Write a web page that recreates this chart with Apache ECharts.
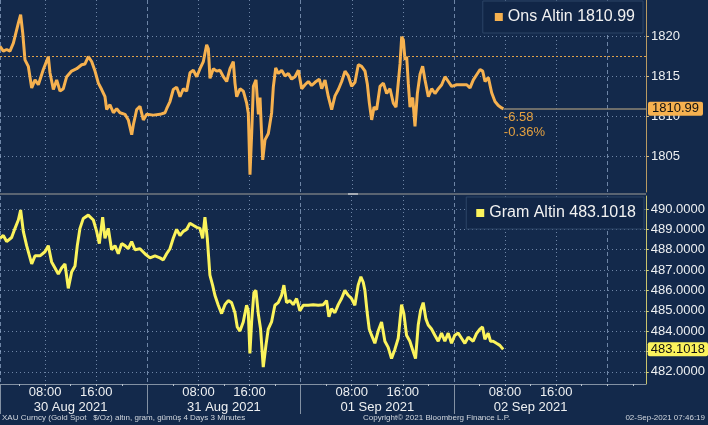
<!DOCTYPE html>
<html><head><meta charset="utf-8">
<script src="https://cdn.jsdelivr.net/npm/echarts@6/dist/echarts.min.js"></script>
<style>html,body{margin:0;padding:0;background:#13294b;}#c{width:708px;height:425px;}</style>
</head><body><div id="c"></div><script>
// hours since 30 Aug 2021 00:00
const onsHours = [0.94,1.46,1.98,2.5,3.03,3.81,4.17,4.49,4.85,5.37,5.90,6.42,6.94,7.72,8.50,8.76,9.29,9.81,10.33,10.85,
11.37,12.15,12.94,13.72,14.24,14.76,15.28,15.81,16.33,16.85,17.37,17.63,18.15,18.68,19.20,19.72,20.50,21.02,21.55,21.81,
22.33,22.85,23.37,23.89,24.93,25.98,26.76,27.02,27.54,28.06,28.59,29.11,29.63,30.15,30.67,31.19,31.72,32.24,32.76,33.28,
33.54,33.80,34.32,34.85,35.37,35.89,36.41,36.93,37.45,37.71,37.98,38.50,39.02,39.54,39.80,40.06,40.33,40.59,41.00,41.37,
41.63,42.05,42.41,42.93,43.45,43.71,44.08,44.49,45.02,45.54,46.06,46.58,47.10,47.63,48.15,48.67,49.19,49.71,50.24,50.91,
51.28,51.80,52.32,52.84,53.36,53.89,54.41,54.93,55.45,55.97,56.49,57.01,57.53,58.06,58.42,58.74,59.10,59.47,59.88,60.41,
60.93,61.45,61.97,62.49,62.91,63.28,63.54,63.80,64.06,64.32,64.58,64.84,65.10,65.52,65.88,66.25,66.67,67.08,67.45,67.97,
68.49,69.01,69.54,70.06,70.58,71.10,71.62,72.40,73.19,73.97,74.49,75.01,75.53,76.06,76.47,76.84,77.36,77.88,78.40,78.92,
79.45,79.71];
const onsValues = [1818.8,1818.2,1818.4,1818.2,1819.2,1821.7,1822.75,1820.5,1817.1,1816.3,1813.6,1814.6,1814.0,1815.9,1817.5,1815.5,1813.4,1814.6,1813.2,1813.5,
1815.0,1815.7,1816.0,1816.5,1816.6,1817.5,1816.9,1815.7,1814.2,1813.4,1812.5,1810.9,1811.5,1810.5,1811.0,1810.5,1810.3,1809.6,1807.75,1809.0,
1810.9,1811.3,1809.6,1810.3,1810.2,1810.3,1810.5,1811.0,1811.9,1813.4,1813.7,1812.5,1813.5,1813.2,1815.5,1815.8,1815.0,1816.0,1816.9,1819.0,
1818.5,1814.8,1816.0,1815.7,1815.8,1815.0,1814.4,1816.0,1816.9,1814.2,1812.5,1813.5,1813.2,1811.7,1810.4,1802.75,1808.0,1813.8,1814.6,1810.3,
1812.4,1804.6,1807.1,1807.9,1810.5,1813.7,1816.1,1815.4,1815.8,1815.1,1815.4,1814.7,1815.0,1815.8,1813.5,1814.0,1814.4,1813.9,1814.3,1814.7,
1813.5,1814.6,1812.5,1810.9,1812.6,1813.4,1814.4,1815.7,1815.1,1813.8,1814.3,1816.5,1816.3,1815.7,1814.1,1811.7,1809.6,1811.2,1810.9,1813.8,
1814.2,1812.9,1813.5,1811.7,1811.2,1814.4,1816.6,1820.0,1819.6,1817.1,1817.5,1814.1,1811.2,1812.4,1808.8,1812.9,1815.3,1816.3,1814.6,1812.5,
1813.5,1812.9,1813.5,1814.0,1815.0,1814.4,1813.8,1814.0,1814.0,1814.0,1813.6,1814.6,1815.25,1815.9,1815.7,1814.4,1814.9,1813.0,1811.9,1811.4,
1811.1,1810.99];
const gramHours = [0.94,1.46,1.98,2.76,3.29,3.81,4.17,4.59,5.11,5.90,6.42,7.20,7.98,8.50,9.02,9.55,10.07,10.59,11.11,11.63,
12.15,12.68,13.04,13.46,13.98,14.76,15.55,16.07,16.49,17.01,17.37,17.89,18.41,18.94,19.46,19.98,20.50,21.02,21.55,22.07,
22.85,23.63,24.41,25.20,25.98,26.50,27.02,27.54,28.06,28.59,29.11,29.63,30.15,30.67,31.19,31.72,32.24,32.66,33.02,33.39,
33.80,34.22,34.58,35.11,35.63,36.15,36.67,37.19,37.72,38.08,38.50,39.02,39.54,39.80,40.06,40.33,40.69,41.00,41.37,41.73,
42.15,42.57,42.93,43.45,43.97,44.49,45.02,45.38,45.80,46.32,46.84,47.37,47.89,48.41,49.19,49.97,50.76,51.54,52.06,52.43,
52.84,53.36,53.89,54.41,54.93,55.45,55.97,56.49,57.01,57.43,57.80,58.06,58.42,58.74,59.10,59.62,60.14,60.67,61.19,61.71,
62.23,62.75,63.28,63.80,64.16,64.58,65.10,65.62,65.99,66.41,66.77,67.19,67.61,67.97,68.49,69.01,69.54,70.06,70.58,71.10,
71.62,72.14,72.67,73.19,73.71,74.23,75.01,75.53,76.06,76.47,76.84,77.36,77.73,78.14,78.66,79.19,79.71];
const gramValues = [488.56,488.7,488.4,488.6,489.05,489.46,489.95,488.9,488.2,487.3,487.7,487.7,487.9,488.2,487.4,487.1,486.8,487.1,487.3,486.1,
486.9,487.2,488.2,489.05,489.54,489.7,489.46,488.9,488.3,489.6,488.56,489.05,488.0,488.2,487.8,488.3,488.2,488.05,488.4,488.0,
488.05,487.8,487.6,487.7,487.6,487.5,487.8,488.05,488.56,489.0,488.7,488.9,489.0,489.3,489.2,489.1,489.05,488.56,489.6,488.56,
486.75,486.26,485.76,485.27,484.86,485.3,485.5,485.4,484.9,484.2,484.0,484.45,485.27,485.0,482.9,484.45,485.9,486.0,484.86,484.1,
482.23,483.3,484.1,484.45,485.27,485.4,485.76,486.26,485.4,485.5,485.3,485.6,485.0,485.27,485.27,485.3,485.27,485.3,485.5,484.7,
485.1,484.9,485.3,485.6,486.0,485.76,485.6,485.27,486.26,486.67,486.4,486.0,484.9,484.1,483.8,483.4,484.0,484.45,483.5,483.2,
482.65,483.1,483.65,485.3,484.86,483.8,483.5,483.0,482.65,484.3,485.0,485.4,484.6,484.3,484.1,483.8,483.5,483.9,483.5,483.9,
483.4,483.8,483.9,483.65,483.4,483.7,483.5,483.88,484.1,484.2,483.6,483.9,483.5,483.5,483.4,483.3,483.1018];

const onsName = 'Ons Altin', gramName = 'Gram Altin';
const onsLast = '1810.99', onsChange = '-6.58', onsChangePct = '-0.36%';
const onsPrevClose = 1817.57;
const gramLast = '483.1018';
const onsTicks = [1805, 1810, 1815, 1820];
const gramTicks = [482, 483, 484, 485, 486, 487, 488, 489, 490];
const gramLabelTicks = [482, 484, 485, 486, 487, 488, 489, 490];
const hourTicks = [8, 16, 32, 40, 56, 64, 80, 88];
const dayBounds = [24, 48, 72, 96];
const dayMids = [12, 36, 60, 84];
const dayLabels = ['30 Aug 2021', '31 Aug 2021', '01 Sep 2021', '02 Sep 2021'];
const minorTicks = [4,8,12,16,20,24,28,32,36,40,44,48,52,56,60,64,68,72,76,80,84,88,92,96,100];
const xMin = 0.94, xMax = 102.03;
const footerLeft = 'XAU Curncy (Gold Spot   $/Oz) altın, gram, gümüş 4 Days 3 Minutes';
const footerMid = 'Copyright© 2021 Bloomberg Finance L.P.';
const footerRight = '02-Sep-2021 07:46:19';

const FONT = 'Liberation Sans, Arial, sans-serif';
const ORANGE = '#f6b14f', YELLOW = '#fbf35c';
const GRIDC = 'rgba(150,172,205,0.7)';
const zip = (a, b) => a.map((v, i) => [v, b[i]]);

function gridAxis(gi, ticks, dash) {
  return {type:'value', gridIndex:gi, min:xMin, max:xMax, position:'bottom',
    axisLine:{show:false}, axisLabel:{show:false},
    axisTick:{show:false, customValues:ticks},
    splitLine:{show:true, lineStyle:{color:GRIDC, width:1, type:dash}}};
}
const chart = echarts.init(document.getElementById('c'), null, {renderer:'canvas'});
chart.setOption({
  animation:false,
  backgroundColor:'#13294b',
  grid:[{left:0, right:62, top:0, height:192}, {left:0, right:62, top:196, bottom:41}],
  xAxis:[
    gridAxis(0, hourTicks, [1,3]),
    gridAxis(0, [xMin].concat(dayBounds), [4,3]),
    gridAxis(1, hourTicks, [1,3]),
    gridAxis(1, [xMin].concat(dayBounds), [4,3]),
    {type:'value', gridIndex:1, min:xMin, max:xMax, position:'bottom',
      axisLine:{show:true, lineStyle:{color:'#8391a3', width:1}},
      axisTick:{show:true, customValues:minorTicks, length:2, lineStyle:{color:'#b8c2ce'}},
      axisLabel:{show:true, customValues:hourTicks, margin:2, color:'#eef0f2', fontSize:13, fontFamily:FONT,
        formatter:v => String(Math.round(v) % 24).padStart(2,'0') + ':00'},
      splitLine:{show:false}},
    {type:'value', gridIndex:1, min:xMin, max:xMax, position:'bottom',
      axisLine:{show:false},
      axisTick:{show:true, customValues:[xMin].concat(dayBounds.slice(0,3)), length:30, lineStyle:{color:'#8391a3'}},
      axisLabel:{show:true, customValues:dayMids, margin:17, color:'#eef0f2', fontSize:13, fontFamily:FONT,
        formatter:v => dayLabels[dayMids.indexOf(Math.round(v))] || ''},
      splitLine:{show:false}}
  ],
  yAxis:[
    {type:'value', gridIndex:0, position:'right', min:1800.59, max:1824.59,
      axisLine:{show:true, lineStyle:{color:'#b89a62', width:1}},
      axisTick:{show:true, customValues:onsTicks, length:3, lineStyle:{color:'#d6b57a'}},
      axisLabel:{customValues:onsTicks, margin:5, color:'#eef0f2', fontSize:13, fontFamily:FONT,
        formatter:v => String(v)},
      splitLine:{show:true, lineStyle:{color:GRIDC, type:[1,3]}}},
    {type:'value', gridIndex:1, position:'right', min:481.40, max:490.64,
      axisLine:{show:true, lineStyle:{color:'#c9c36c', width:1}},
      axisTick:{show:true, customValues:gramTicks, length:3, lineStyle:{color:'#dcd67c'}},
      axisLabel:{customValues:gramLabelTicks, margin:5, color:'#eef0f2', fontSize:13, fontFamily:FONT,
        formatter:v => v.toFixed(4)},
      splitLine:{show:true, lineStyle:{color:GRIDC, type:[1,3]}}}
  ],
  legend:[
    {data:[onsName], right:65, top:1, icon:'rect', itemWidth:8, itemHeight:8, itemGap:4,
      formatter:n => n + ' ' + onsLast, padding:[8,8,8,12],
      backgroundColor:'#112647', borderColor:'#2c4567', borderWidth:1,
      textStyle:{color:'#f2f2f2', fontSize:16, fontFamily:FONT}},
    {data:[gramName], right:64, top:197, icon:'rect', itemWidth:8, itemHeight:8, itemGap:4,
      formatter:n => n + ' ' + gramLast, padding:[8,8,8,10],
      backgroundColor:'#112647', borderColor:'#2c4567', borderWidth:1,
      textStyle:{color:'#f2f2f2', fontSize:16, fontFamily:FONT}}
  ],
  series:[
    {name:onsName, type:'line', xAxisIndex:0, yAxisIndex:0, data:zip(onsHours, onsValues),
      showSymbol:false, symbol:'none', lineStyle:{color:ORANGE, width:3}, itemStyle:{color:ORANGE}, z:3,
      markLine:{silent:true, symbol:['none','none'], animation:false,
        data:[
          {yAxis:onsPrevClose, lineStyle:{color:'#e0a24a', type:[2,2], width:1}, label:{show:false}},
          [{coord:[onsHours[onsHours.length-1], onsValues[onsValues.length-1]]},
           {coord:[xMax, onsValues[onsValues.length-1]],
            lineStyle:{color:'#8d8574', type:'solid', width:1.5},
            label:{show:true, position:'end', distance:2, formatter:onsLast, color:'#111', fontSize:13, fontFamily:FONT,
              backgroundColor:ORANGE, padding:[1,4,0,4], borderRadius:2}}]
        ]},
      markPoint:{silent:true, symbol:'rect', symbolSize:1, itemStyle:{color:'rgba(0,0,0,0)'},
        data:[{coord:[onsHours[onsHours.length-1], onsValues[onsValues.length-1]],
          label:{show:true, position:[1,2], align:'left', verticalAlign:'top', formatter:onsChange + '\n' + onsChangePct,
            color:'#e3a040', fontSize:13, lineHeight:15, fontFamily:FONT}}]}},
    {name:gramName, type:'line', xAxisIndex:2, yAxisIndex:1, data:zip(gramHours, gramValues),
      showSymbol:false, symbol:'none', lineStyle:{color:YELLOW, width:3}, itemStyle:{color:YELLOW}, z:3,
      markLine:{silent:true, symbol:['none','none'], animation:false,
        data:[[{coord:[gramHours[gramHours.length-1], gramValues[gramValues.length-1]]},
           {coord:[xMax, gramValues[gramValues.length-1]],
            lineStyle:{color:'rgba(0,0,0,0)', width:1},
            label:{show:true, position:'end', distance:2, formatter:gramLast, color:'#111', fontSize:13, fontFamily:FONT,
              backgroundColor:YELLOW, padding:[1,3,0,3], borderRadius:2}}]]}}
  ],
  graphic:[
    {type:'rect', left:0, top:193, shape:{width:646, height:2}, style:{fill:'#5a6472'}, silent:true},
    {type:'rect', left:348, top:193, shape:{width:10, height:2}, style:{fill:'#a6acb4'}, silent:true},
    {type:'text', left:2, top:414, style:{text:footerLeft, fill:'#d2d7de', fontSize:8, fontFamily:FONT}},
    {type:'text', left:363, top:414, style:{text:footerMid, fill:'#d2d7de', fontSize:8, fontFamily:FONT}},
    {type:'text', right:3, top:414, style:{text:footerRight, fill:'#d2d7de', fontSize:8, fontFamily:FONT}}
  ]
});
</script></body></html>
